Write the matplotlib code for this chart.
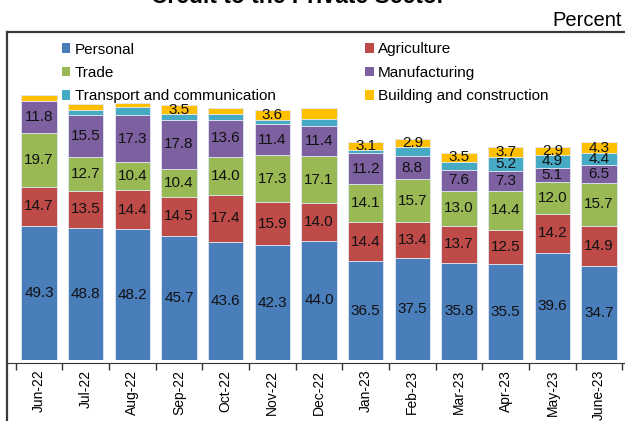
import matplotlib.pyplot as plt
from matplotlib.lines import Line2D
from matplotlib.patches import Patch

months = ["Jun-22", "Jul-22", "Aug-22", "Sep-22", "Oct-22", "Nov-22", "Dec-22",
          "Jan-23", "Feb-23", "Mar-23", "Apr-23", "May-23", "June-23"]

personal = [49.3, 48.8, 48.2, 45.7, 43.6, 42.3, 44.0, 36.5, 37.5, 35.8, 35.5, 39.6, 34.7]
agriculture = [14.7, 13.5, 14.4, 14.5, 17.4, 15.9, 14.0, 14.4, 13.4, 13.7, 12.5, 14.2, 14.9]
trade = [19.7, 12.7, 10.4, 10.4, 14.0, 17.3, 17.1, 14.1, 15.7, 13.0, 14.4, 12.0, 15.7]
manufacturing = [11.8, 15.5, 17.3, 17.8, 13.6, 11.4, 11.4, 11.2, 8.8, 7.6, 7.3, 5.1, 6.5]
transport = [0.0, 1.6, 2.9, 2.2, 2.3, 1.8, 2.5, 1.3, 3.2, 2.9, 5.2, 4.9, 4.4]
building = [2.2, 2.2, 1.6, 3.5, 2.1, 3.6, 4.0, 3.1, 2.9, 3.5, 3.7, 2.9, 4.3]

# which small segments carry a value label in the source
transport_shown = [False] * 10 + [True] * 3
building_shown = [False, False, False, True, False, True, False] + [True] * 6

series = [
    ("Personal", personal, "#4a7ebb", [True] * 13),
    ("Agriculture", agriculture, "#be4b48", [True] * 13),
    ("Trade", trade, "#98b954", [True] * 13),
    ("Manufacturing", manufacturing, "#7d60a0", [True] * 13),
    ("Transport and communication", transport, "#46aac5", transport_shown),
    ("Building and construction", building, "#ffc000", building_shown),
]

W, H = 625, 421
plt.rcParams['font.family'] = ['Liberation Sans', 'DejaVu Sans']
fig = plt.figure(figsize=(W / 100, H / 100), dpi=100)
ax = fig.add_axes([7 / W, (H - 360) / H, 618 / W, 328 / H])

x = list(range(len(months)))
bottom = [0.0] * len(months)
handles = {}
for name, vals, color, shown in series:
    bars = ax.bar(x, vals, width=0.76, bottom=bottom, color=color,
                  edgecolor="#dfe6f0", linewidth=0.6)
    handles[name] = Patch(facecolor=color, edgecolor="none")
    for i, b in enumerate(bars):
        if shown[i]:
            ax.text(b.get_x() + b.get_width() / 2, bottom[i] + vals[i] / 2,
                    f"{vals[i]:.1f}", ha="center", va="center",
                    fontsize=11, color="#111111")
    bottom = [b0 + v for b0, v in zip(bottom, vals)]

ax.set_xlim(-0.686, 12.556)
ax.set_ylim(0, 121)

ax.set_xticks([i - 0.5 for i in range(len(months) + 1)])
ax.set_xticklabels([])
ax.set_xticks(x, minor=True)
ax.set_xticklabels(months, minor=True, fontsize=10.8)
ax.tick_params(axis="x", which="major", direction="out", length=5, width=1, color="#333333")
ax.tick_params(axis="x", which="minor", length=0, pad=4.5, labelrotation=90)
ax.set_yticks([])

for s in ["left", "right"]:
    ax.spines[s].set_visible(False)
ax.spines["bottom"].set_position(("outward", 2.5))
ax.spines["bottom"].set_color("#333333")
ax.spines["top"].set_linewidth(1.6)
ax.spines["top"].set_color("#3a3a3a")

# left frame line reaching down past the tick labels
fig.add_artist(Line2D([7 / W, 7 / W], [0, (H - 32) / H], color="#3a3a3a", linewidth=1.6))

order = ["Personal", "Trade", "Transport and communication",
         "Agriculture", "Manufacturing", "Building and construction"]
ax.legend([handles[n] for n in order], order, ncol=2, loc="upper left",
          bbox_to_anchor=(62 / W, (H - 42.5) / H), bbox_transform=fig.transFigure,
          frameon=False, fontsize=11, handlelength=0.55, handleheight=0.55,
          handletextpad=0.3, columnspacing=5.85, labelspacing=0.62,
          borderpad=0, borderaxespad=0)

fig.text(298 / W, 1 - 3 / H, "Credit to the Private Sector", ha="center",
         va="baseline", fontsize=16.5, fontweight="bold")
fig.text(622 / W, 1 - 26 / H, "Percent", ha="right", va="baseline", fontsize=14.5)

fig.savefig("out.png", dpi=100)
